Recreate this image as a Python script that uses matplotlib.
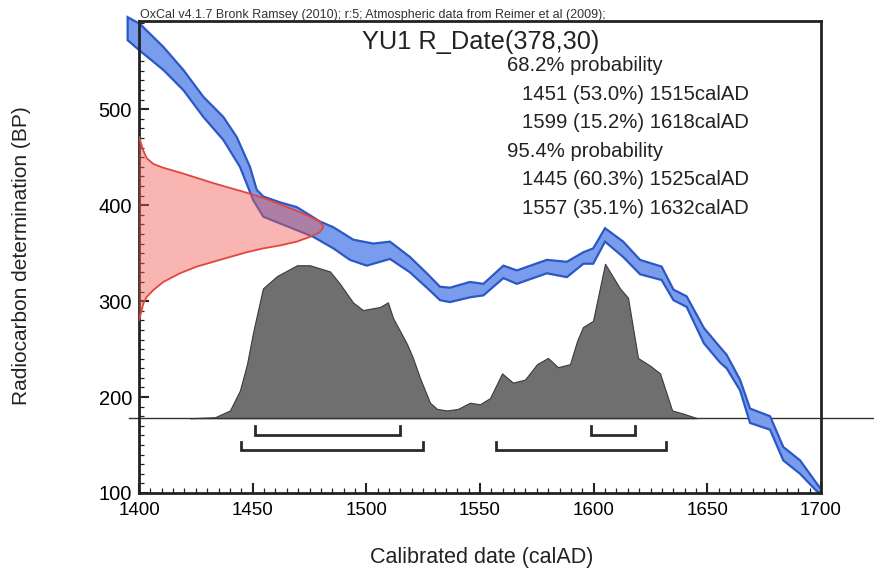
import matplotlib

matplotlib.use("Agg")
import matplotlib.pyplot as plt
import numpy as np
from matplotlib.ticker import MultipleLocator

plt.rcParams["font.family"] = ["Liberation Sans", "DejaVu Sans"]

W, H = 874, 573

# calibration curve (IntCal09 band), upper and lower edge
UPPER_YEAR = [1395.0, 1400.4, 1410.7, 1419.5, 1428.3, 1437.1, 1443.0, 1448.8,
              1451.8, 1454.7, 1462.0, 1469.4, 1479.6, 1485.5, 1494.3, 1503.1,
              1510.4, 1519.2, 1526.6, 1532.4, 1536.8, 1545.6, 1551.5, 1560.3,
              1566.2, 1579.4, 1588.2, 1595.5, 1599.8, 1605.0, 1613.0, 1620.4,
              1629.9, 1635.1, 1640.9, 1648.5, 1655.6, 1658.5, 1664.4, 1668.8,
              1677.6, 1683.4, 1690.8, 1698.1, 1700.0]
UPPER_BP = [596, 589, 565, 541, 513, 492, 471, 440,
            416, 409, 403, 398, 383, 377, 364, 360,
            362, 346, 329, 315, 314, 320, 318, 337,
            332, 343, 341, 351, 355, 376, 362, 343,
            336, 312, 305, 272, 252, 244, 218, 188,
            180, 148, 134, 110, 104]
LOWER_YEAR = [1395.0, 1400.4, 1410.7, 1419.5, 1428.3, 1437.1, 1444.4, 1450.3,
              1454.7, 1462.0, 1469.4, 1476.7, 1485.5, 1492.8, 1500.2, 1510.4,
              1519.2, 1528.0, 1532.4, 1536.8, 1545.6, 1551.5, 1560.3, 1566.2,
              1579.4, 1588.2, 1595.5, 1599.8, 1605.0, 1613.0, 1620.4, 1629.9,
              1635.1, 1640.9, 1648.5, 1655.6, 1658.5, 1664.4, 1668.8, 1677.6,
              1683.4, 1690.8, 1698.1, 1700.0]
LOWER_BP = [572, 561, 541, 520, 492, 468, 440, 405,
            388, 381, 374, 367, 355, 343, 337, 344,
            330, 311, 301, 299, 304, 306, 324, 318,
            329, 325, 339, 339, 362, 346, 328, 322,
            301, 294, 256, 236, 230, 207, 173, 166,
            134, 120, 102, 100]

# R_Date(378,30) drawn sideways on the y axis: BP and width in years from 1400
RDATE_BP = [471, 457, 449, 443, 439, 434, 428.5, 423, 418, 413, 407.5, 401,
            394, 388, 382.5, 377.5, 372, 367, 362, 358, 355, 351, 346, 341,
            336, 329, 320, 311.5, 304.5, 297.5, 290.5, 280]
RDATE_WIDTH = [0, 1.9, 3.4, 6.3, 10.7, 18, 25.4, 32.7, 40, 47.4, 54.7, 62,
               69.4, 75.2, 79.6, 81.2, 79.6, 75.2, 69.4, 62, 54.7, 47.4, 40, 32.7,
               25.4, 18, 10.7, 6.3, 3.4, 1.9, 1.2, 0]

# calibrated probability, relative height (peak = 100)
POST_YEAR = [1422.4, 1433.4, 1440.0, 1444.4, 1447.5, 1450.1, 1454.5, 1460.7,
             1469.5, 1475.2, 1484.0, 1488.4, 1494.1, 1498.5, 1506.0, 1509.5,
             1511.7, 1517.9, 1520.5, 1523.6, 1528.0, 1531.1, 1535.5, 1540.3,
             1545.6, 1550.0, 1554.4, 1559.7, 1564.5, 1569.8, 1575.1, 1579.9,
             1584.3, 1589.6, 1592.7, 1595.3, 1599.7, 1605.0, 1611.6, 1615.1,
             1619.5, 1624.8, 1629.2, 1634.5, 1639.3, 1645.5]
POST_REL = [0, 0.6, 5, 18, 35, 55, 84, 92,
            99, 99, 95, 87, 75, 70, 72, 75,
            65, 48, 39, 26, 10, 6, 5, 6,
            10, 9, 13, 29, 23, 25, 35, 39,
            33, 35, 50, 59, 63, 100, 84, 78,
            39, 34, 29, 5, 3, 0]

RANGES_68 = [(1451, 1515), (1599, 1618)]
RANGES_95 = [(1445, 1525), (1557, 1632)]

HEADER = "OxCal v4.1.7 Bronk Ramsey (2010); r:5; Atmospheric data from Reimer et al (2009);"
TITLE = "YU1 R_Date(378,30)"
SUMMARY = [
    ("68.2% probability", 0),
    ("1451 (53.0%) 1515calAD", 1),
    ("1599 (15.2%) 1618calAD", 1),
    ("95.4% probability", 0),
    ("1445 (60.3%) 1525calAD", 1),
    ("1557 (35.1%) 1632calAD", 1),
]

BASE = 178.0        # BP level of the posterior baseline
POST_PEAK = 161.0   # BP height of the posterior peak

fig = plt.figure(figsize=(W / 100, H / 100), dpi=100)
ax = fig.add_axes([139 / W, 1 - 493 / H, 682 / W, 472 / H])

# posterior
rel = np.array(POST_REL) / 100.0
ax.fill_between(POST_YEAR, BASE, BASE + rel * POST_PEAK,
                facecolor="#6f6f6f", edgecolor="#3a3a3a", lw=0.8, zorder=1)
ax.plot([-0.015, 1.078], [BASE, BASE], transform=ax.get_yaxis_transform(),
        color="#333333", lw=1.0, clip_on=False, zorder=1.5)

# calibration band
xs = UPPER_YEAR + LOWER_YEAR[::-1]
ys = UPPER_BP + LOWER_BP[::-1]
ax.fill(xs, ys, facecolor="#799cec", edgecolor="#2c58c6", lw=1.6,
        clip_on=False, zorder=2)

# measured date
w = np.array(RDATE_WIDTH)
ax.fill_betweenx(RDATE_BP, 1400, 1400 + w, facecolor=(0.94, 0.36, 0.32, 0.45),
                 edgecolor="none", zorder=3)
ax.plot(1400 + w, RDATE_BP, color="#e2463d", lw=1.3, zorder=3.5)

# range brackets
for a, b in RANGES_68:
    ax.plot([a, a, b, b], [170, 160.5, 160.5, 170], color="#2a2a2a", lw=2.0,
            solid_joinstyle="miter", zorder=4)
for a, b in RANGES_95:
    ax.plot([a, a, b, b], [153, 145, 145, 153], color="#2a2a2a", lw=2.0,
            solid_joinstyle="miter", zorder=4)

ax.set_xlim(1400, 1700)
ax.set_ylim(100, 592)
ax.xaxis.set_major_locator(MultipleLocator(50))
ax.xaxis.set_minor_locator(MultipleLocator(5))
ax.yaxis.set_major_locator(MultipleLocator(100))
ax.yaxis.set_minor_locator(MultipleLocator(10))
ax.tick_params(which="both", direction="in", color="#222222")
ax.tick_params(which="major", length=7, width=1.5)
ax.tick_params(which="minor", length=3.5, width=0.9)
ax.tick_params(axis="x", labelsize=13.5, pad=6.5)
ax.tick_params(axis="y", labelsize=14.5, pad=5)
for s in ax.spines.values():
    s.set_linewidth(2.0)
    s.set_color("#222222")

fig.text(140 / W, 1 - 18 / H, HEADER, fontsize=9, color="#333333", va="baseline")
fig.text(362 / W, 1 - 49 / H, TITLE, fontsize=18.3, color="#222222", va="baseline")
for i, (line, indent) in enumerate(SUMMARY):
    x = 522 if indent else 507
    y = 71 + i * 28.6
    fig.text(x / W, 1 - y / H, line, fontsize=14.6, color="#222222", va="baseline")

fig.text(482 / W, 1 - 557 / H, "Calibrated date (calAD)", fontsize=15.5,
         ha="center", va="center", color="#222222")
fig.text(22 / W, 1 - 256 / H, "Radiocarbon determination (BP)", fontsize=15,
         rotation=90, ha="center", va="center", color="#222222")

fig.savefig("out.png", dpi=100, facecolor="white")
